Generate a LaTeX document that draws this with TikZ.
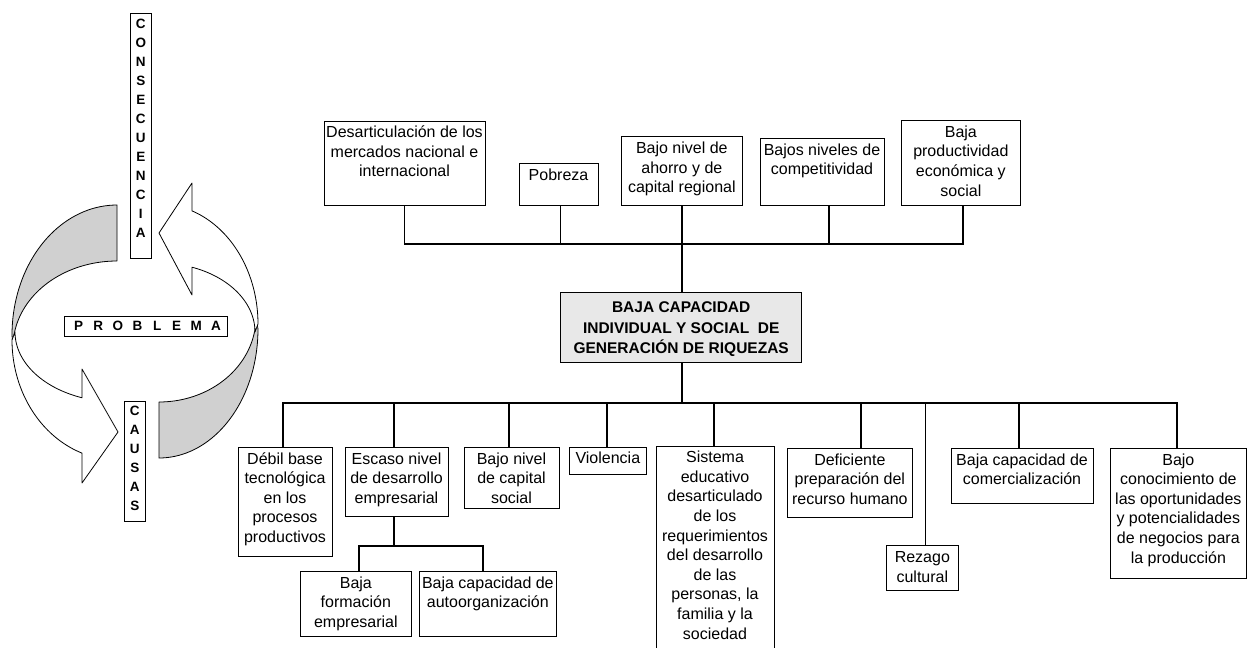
\documentclass[tikz,border=0pt]{standalone}
\usepackage{fontspec}
\setmainfont{Liberation Sans}
\usetikzlibrary{fit}
\definecolor{ribgray}{RGB}{208,208,208}
\definecolor{coregray}{RGB}{232,232,232}
\newcommand{\stk}[1]{\begin{tabular}[t]{@{}c@{}}#1\end{tabular}}
\newcommand{\lsp}[1]{\makebox[19.6pt]{#1}}
\begin{document}
\begin{tikzpicture}[x=1pt,y=-1pt,
  box/.style={draw, line width=0.9pt, inner sep=0pt},
  txt/.style={anchor=base, inner sep=0pt, font=\fontsize{16}{19.6}\selectfont},
  coretxt/.style={anchor=base, inner sep=0pt, font=\bfseries\fontsize{15.5}{20.5}\selectfont},
  ltr/.style={anchor=base, inner sep=0pt, font=\fontsize{13.5}{19}\selectfont\bfseries},
  conn/.style={draw, line width=1.3pt},
  ribbon/.style={draw, line width=0.8pt, line join=round}]
\clip (0,0) rectangle (1248,648);
\fill[white] (0,0) rectangle (1248,648);

% ---------- cycle ribbons ----------
\filldraw[ribbon, fill=ribgray]
  plot[domain=90:180, samples=40] ({117+105*cos(\x)},{335-130*sin(\x)})
  -- plot[domain=180:90, samples=40] ({117+104*cos(\x)},{347-86*sin(\x)}) -- cycle;
\filldraw[ribbon, fill=white]
  plot[domain=180:249.94, samples=40] ({117+102*cos(\x)},{332-70*sin(\x)})
  -- (82,369) -- (118,432) -- (82,483) -- (82,453)
  -- plot[domain=250.53:180, samples=40] ({117+105*cos(\x)},{340-120*sin(\x)}) -- cycle;
\filldraw[ribbon, fill=ribgray]
  plot[domain=270:360, samples=40] ({159+99*cos(\x)},{329-129*sin(\x)})
  -- plot[domain=0:-90, samples=40] ({159+97*cos(\x)},{317-85*sin(\x)}) -- cycle;
\filldraw[ribbon, fill=white]
  plot[domain=0:69.89, samples=40] ({159+96*cos(\x)},{332-69*sin(\x)})
  -- (192,295) -- (159,233) -- (192,183) -- (192,211)
  -- plot[domain=70.53:0, samples=40] ({159+99*cos(\x)},{324-120*sin(\x)}) -- cycle;

\node[box, fit={(130,13.3) (151.7,258)}] (cons) {};
\node[ltr] (cons-t) at ([yshift=-15.5pt]cons.north) {\stk{C\\O\\N\\S\\E\\C\\U\\E\\N\\C\\I\\A}};
\node[box, fill=white, fit={(64,316) (227.7,336)}] (prob) {};
\node[ltr] (prob-t) at ([yshift=-15pt,xshift=1.5pt]prob.north) {\lsp{P}\lsp{R}\lsp{O}\lsp{B}\lsp{L}\lsp{E}\lsp{M}\lsp{A}};
\node[box, fit={(124,401.7) (145.7,521)}] (caus) {};
\node[ltr] (caus-t) at ([yshift=-14pt]caus.north) {\stk{C\\A\\U\\S\\A\\S}};

% ---------- top row (consecuencias) ----------
\node[box, fit={(324,121.7) (485,205)}] (t1) {};
\node[txt] (t1-t) at ([yshift=-16.5pt]t1.north) {\stk{Desarticulación de los\\mercados nacional e\\internacional}};
\node[box, fit={(519,163) (598,205)}] (t2) {};
\node[txt] (t2-t) at ([yshift=-18pt]t2.north) {\stk{Pobreza}};
\node[box, fit={(621.7,136.7) (742,205)}] (t3) {};
\node[txt] (t3-t) at ([yshift=-17.5pt]t3.north) {\stk{Bajo nivel de\\ahorro y de\\capital regional}};
\node[box, fit={(760,138) (884,205)}] (t4) {};
\node[txt] (t4-t) at ([yshift=-17.5pt]t4.north) {\stk{Bajos niveles de\\competitividad}};
\node[box, fit={(901,120.7) (1020.7,205)}] (t5) {};
\node[txt] (t5-t) at ([yshift=-17pt]t5.north) {\stk{Baja\\productividad\\económica y\\social}};

\coordinate (tbus) at (682,244);
\draw[conn] (t1.south) |- (tbus);
\draw[conn] ([xshift=2pt]t2.south) |- (tbus);
\draw[conn] (t3.south) |- (tbus);
\draw[conn] ([xshift=7pt]t4.south) |- (tbus);
\draw[conn] ([xshift=2pt]t5.south) |- (tbus);

% ---------- core problem ----------
\node[box, fill=coregray, fit={(560.7,292.7) (801.7,362.7)}] (core) {};
\node[coretxt] (core-t) at ([yshift=-20.3pt]core.north) {\stk{BAJA CAPACIDAD\\INDIVIDUAL Y SOCIAL\ \ DE\\GENERACIÓN DE RIQUEZAS}};
\draw[conn] (tbus) -- (tbus |- core.north);
\coordinate (bbus) at (682,403);
\draw[conn] (core.south -| bbus) -- (bbus);

% ---------- bottom row (causas) ----------
\node[box, fit={(238,447) (332,556)}] (b1) {};
\node[txt] (b1-t) at ([yshift=-17.5pt]b1.north) {\stk{Débil base\\tecnológica\\en los\\procesos\\productivos}};
\node[box, fit={(345,447) (448,516)}] (b2) {};
\node[txt] (b2-t) at ([yshift=-17.5pt]b2.north) {\stk{Escaso nivel\\de desarrollo\\empresarial}};
\node[box, fit={(464,447) (559,508)}] (b3) {};
\node[txt] (b3-t) at ([yshift=-17.5pt]b3.north) {\stk{Bajo nivel\\de capital\\social}};
\node[box, fit={(569,447) (646.7,474)}] (b4) {};
\node[txt] (b4-t) at ([yshift=-17pt]b4.north) {\stk{Violencia}};
\node[box, fit={(656,446.7) (774,665)}] (b5) {};
\node[txt] (b5-t) at ([yshift=-16.5pt]b5.north) {\stk{Sistema\\educativo\\desarticulado\\de los\\requerimientos\\del desarrollo\\de las\\personas, la\\familia y la\\sociedad}};
\node[box, fit={(787,448) (912.7,517.7)}] (b6) {};
\node[txt] (b6-t) at ([yshift=-17.5pt]b6.north) {\stk{Deficiente\\preparación del\\recurso humano}};
\node[box, fit={(886.7,545.7) (958,590)}] (b7) {};
\node[txt] (b7-t) at ([yshift=-17.5pt]b7.north) {\stk{Rezago\\cultural}};
\node[box, fit={(951,448) (1093,503)}] (b8) {};
\node[txt] (b8-t) at ([yshift=-17.5pt]b8.north) {\stk{Baja capacidad de\\comercialización}};
\node[box, fit={(1110.7,448) (1246,578)}] (b9) {};
\node[txt] (b9-t) at ([yshift=-17.5pt]b9.north) {\stk{Bajo\\conocimiento de\\las oportunidades\\y potencialidades\\de negocios para\\la producción}};

\draw[conn] (bbus) -| ([xshift=-2pt]b1.north);
\draw[conn] (bbus) -| ([xshift=-2.5pt]b2.north);
\draw[conn] (bbus) -| ([xshift=-2.5pt]b3.north);
\draw[conn] (bbus) -| ([xshift=-1pt]b4.north);
\draw[conn] (bbus) -| ([xshift=-1pt]b5.north);
\draw[conn] (bbus) -| ([xshift=11pt]b6.north);
\draw[conn] (bbus) -| ([xshift=3pt]b7.north);
\draw[conn] (bbus) -| ([xshift=-3pt]b8.north);
\draw[conn] (bbus) -| ([xshift=-1.5pt]b9.north);

% ---------- sub-causes ----------
\node[box, fit={(300.7,571) (411,636)}] (s1) {};
\node[txt] (s1-t) at ([yshift=-17.5pt]s1.north) {\stk{Baja\\formación\\empresarial}};
\node[box, fit={(419,571) (556.7,636)}] (s2) {};
\node[txt] (s2-t) at ([yshift=-17.5pt]s2.north) {\stk{Baja capacidad de\\autoorganización}};
\coordinate (sbus) at (394,546);
\draw[conn] ([xshift=-2.5pt]b2.south) -- (sbus);
\draw[conn] (sbus) -| ([xshift=3pt]s1.north);
\draw[conn] (sbus) -| ([xshift=-5pt]s2.north);
\end{tikzpicture}
\end{document}
